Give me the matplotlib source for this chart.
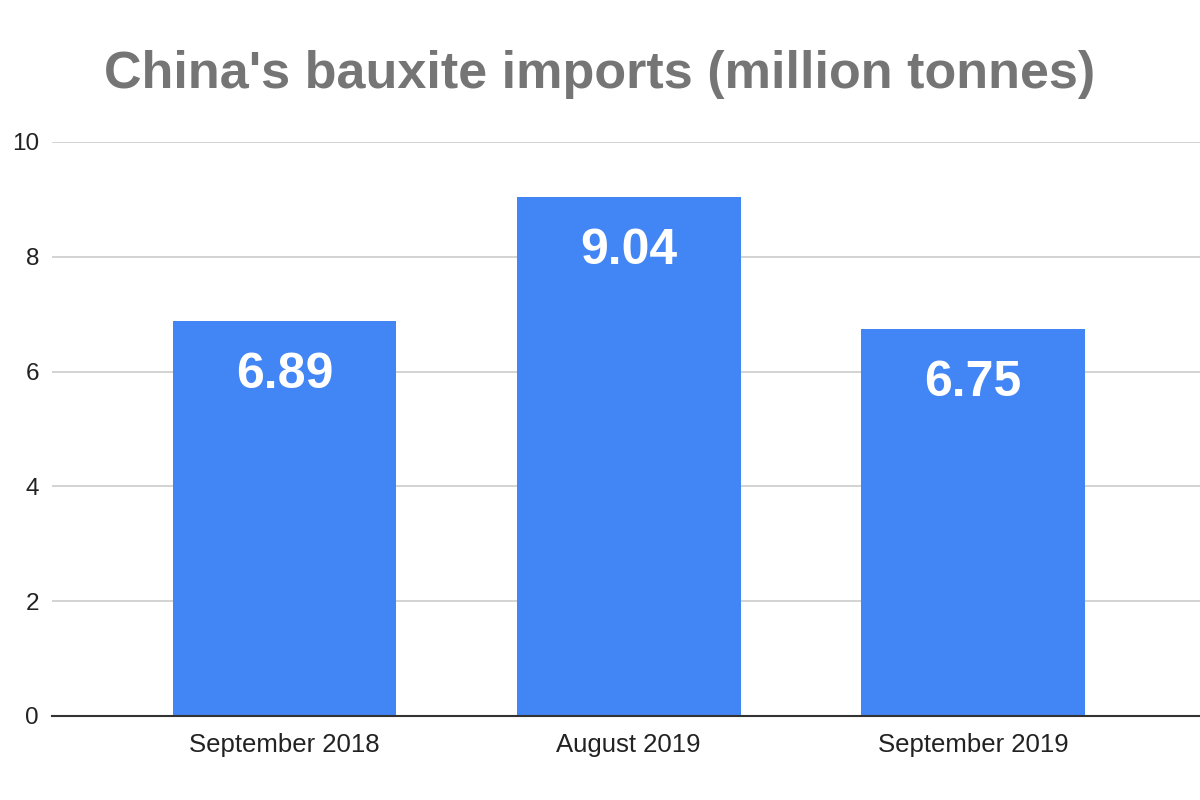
import numpy as np
import matplotlib.pyplot as plt

plt.rcParams['font.family'] = ['Liberation Sans', 'DejaVu Sans']

# Data
categories = ["September 2018", "August 2019", "September 2019"]
imports = [6.89, 9.04, 6.75]
yticks = [0, 2, 4, 6, 8, 10]

bar_color = "#4285F4"

fig = plt.figure(figsize=(12, 8), dpi=100)
ax = fig.add_axes([0.043, 0.105, 0.957, 0.7175])

x = np.arange(len(categories))
bars = ax.bar(x, imports, width=0.65, color=bar_color, zorder=3)

# value labels inside the bars
for xi, v in zip(x, imports):
    ax.annotate(f"{v:.2f}", xy=(xi, v), xytext=(0, -54), textcoords="offset pixels",
                ha="center", va="center", color="white", fontsize=36,
                fontweight="bold", zorder=4)

ax.set_xlim(-0.677, 2.66)
ax.set_ylim(0, 10)
ax.set_xticks(x)
ax.set_xticklabels(categories, fontsize=18.5, color="#222222")
ax.set_yticks(yticks)
ax.set_yticklabels([str(t) for t in yticks], fontsize=17.5, color="#222222")
ax.tick_params(axis="both", length=0)
ax.tick_params(axis="x", pad=12)
ax.tick_params(axis="y", pad=9)

ax.grid(axis="y", color="#cccccc", linewidth=1.2, zorder=0)
for s in ["top", "right", "left"]:
    ax.spines[s].set_visible(False)
ax.spines["bottom"].set_color("#333333")
ax.spines["bottom"].set_linewidth(1.5)
ax.spines["bottom"].set_zorder(5)

fig.text(0.5, 0.907, "China's bauxite imports (million tonnes)", ha="center",
         va="center", fontsize=37.5, fontweight="bold", color="#757575")

fig.savefig("out.png", dpi=100)
